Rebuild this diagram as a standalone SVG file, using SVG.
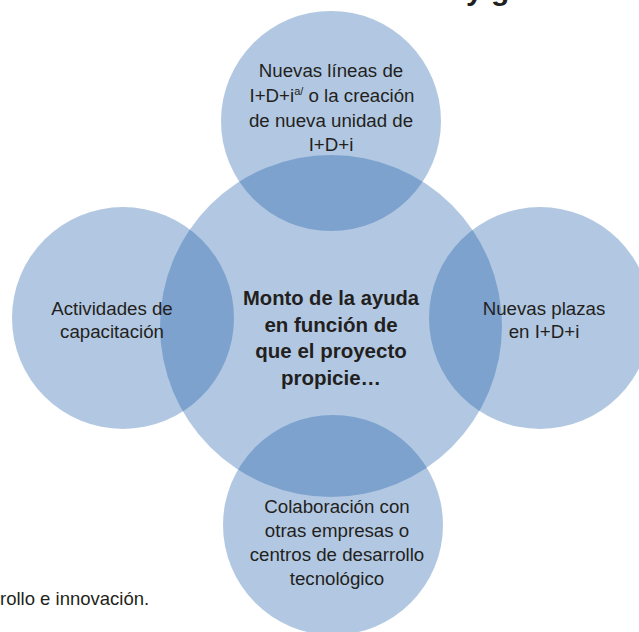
<svg xmlns="http://www.w3.org/2000/svg" width="639" height="632" viewBox="0 0 639 632">
<style>
.c{fill:rgb(15,84,166);fill-opacity:0.32;}
.t{font-family:"Liberation Sans",Arial,sans-serif;font-size:18.7px;fill:#231f20;text-anchor:middle;}
.b{font-family:"Liberation Sans",Arial,sans-serif;font-size:20.5px;font-weight:bold;fill:#231f20;text-anchor:middle;}
.f{font-family:"Liberation Sans",Arial,sans-serif;fill:#231f20;}
</style>
<rect width="639" height="632" fill="#ffffff"/>
<text class="f" x="466" y="0" font-size="30" font-weight="bold">y g</text>
<g id="connectors"/>
<g id="node-center">
<circle class="c" cx="331" cy="326" r="171"/>
<text class="b" x="331" y="305" textLength="176" lengthAdjust="spacingAndGlyphs">Monto de la ayuda</text>
<text class="b" x="331" y="332">en función de</text>
<text class="b" x="331" y="358">que el proyecto</text>
<text class="b" x="331" y="385">propicie…</text>
</g>
<g id="node-top">
<circle class="c" cx="331" cy="121" r="110"/>
<text class="t" x="331" y="77">Nuevas líneas de</text>
<text class="t" x="332" y="102">I+D+i<tspan font-size="11" dy="-7">a/</tspan><tspan dy="7"> o la creación</tspan></text>
<text class="t" x="331" y="127">de nueva unidad de</text>
<text class="t" x="331" y="151">I+D+i</text>
</g>
<g id="node-bottom">
<circle class="c" cx="333" cy="525" r="110"/>
<text class="t" x="337" y="513">Colaboración con</text>
<text class="t" x="337" y="537">otras empresas o</text>
<text class="t" x="337" y="561">centros de desarrollo</text>
<text class="t" x="337" y="585">tecnológico</text>
</g>
<g id="node-left">
<circle class="c" cx="123" cy="318" r="111"/>
<text class="t" x="112" y="315">Actividades de</text>
<text class="t" x="112" y="338">capacitación</text>
</g>
<g id="node-right">
<circle class="c" cx="540" cy="318" r="111"/>
<text class="t" x="544" y="315">Nuevas plazas</text>
<text class="t" x="544" y="338">en I+D+i</text>
</g>
<text class="f" x="0" y="605" font-size="18.5">rollo e innovación.</text>
</svg>
